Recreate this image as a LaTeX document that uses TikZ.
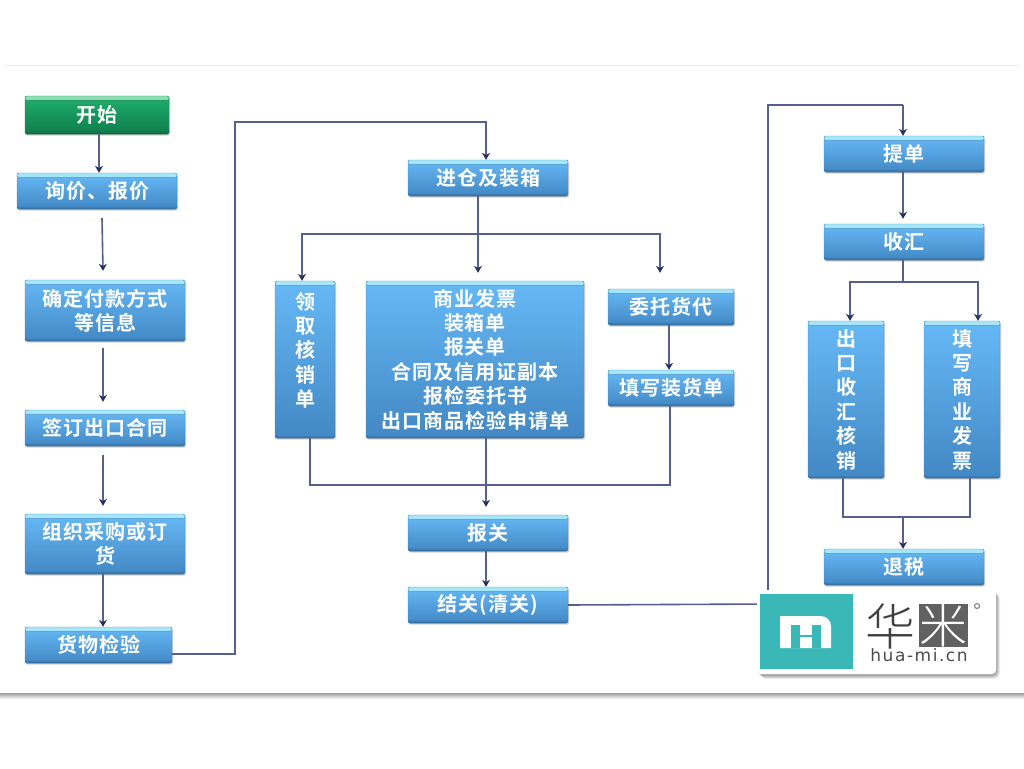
\documentclass[tikz,border=0pt]{standalone}
\usepackage{fontspec}
\setmainfont{Noto Sans CJK SC}[BoldFont={Noto Sans CJK SC Bold}]
\newfontfamily\latinlogo{DejaVu Sans}[LetterSpace=9]
\newfontfamily\thincjk{Noto Sans CJK SC Light}
\usetikzlibrary{arrows.meta,shadows,calc}
\definecolor{linec}{HTML}{565F8E}
\definecolor{tipc}{HTML}{26305F}
\definecolor{bedge}{HTML}{4A8CC2}
\definecolor{btop}{HTML}{66B9F6}
\definecolor{bbot}{HTML}{4288C4}
\definecolor{bstrip}{HTML}{A6E8FA}
\definecolor{bstripb}{HTML}{7CCBF5}
\definecolor{bdark}{HTML}{2F6796}
\definecolor{gedge}{HTML}{1F8A55}
\definecolor{gtop}{HTML}{1FAF6E}
\definecolor{gbot}{HTML}{0F7D4A}
\definecolor{gstrip}{HTML}{8FE0B4}
\definecolor{gstripb}{HTML}{35B97E}
\definecolor{gdark}{HTML}{0B6238}
\definecolor{teal}{HTML}{3AB8B8}
\tikzset{
  stripbase/.style={rectangle,rounded corners=1.5pt,inner sep=0pt,align=center,text=white,
    font=\bfseries\fontsize{20}{24.4}\selectfont\addfontfeatures{LetterSpace=5},
    drop shadow={shadow xshift=1pt,shadow yshift=-1.5pt,opacity=.28,fill=black!60}},
  flowbox/.style={stripbase,draw=bedge,line width=.4pt,top color=btop,bottom color=bbot,
    path picture={
      \fill[top color=bstrip,bottom color=bstripb] (path picture bounding box.north west) rectangle ([yshift=-4pt]path picture bounding box.north east);
      \fill[top color=bbot,bottom color=bdark] ([yshift=3pt]path picture bounding box.south west) rectangle (path picture bounding box.south east);
    }},
  startbox/.style={stripbase,draw=gedge,line width=.4pt,top color=gtop,bottom color=gbot,
    path picture={
      \fill[top color=gstrip,bottom color=gstripb] (path picture bounding box.north west) rectangle ([yshift=-4pt]path picture bounding box.north east);
      \fill[top color=gbot,bottom color=gdark] ([yshift=3pt]path picture bounding box.south west) rectangle (path picture bounding box.south east);
    }},
  link/.style={draw=linec,line width=1.6pt},
  arrowlink/.style={link,-{Stealth[length=7pt,width=8pt,color=tipc]}},
}
\newcommand{\bx}[7][flowbox]{\node[#1,minimum width={(#5-#3)*1pt},minimum height={(#6-#4)*1pt}] (#2) at ({(#3+#5)/2},{(#4+#6)/2}) {#7};}
\begin{document}
\begin{tikzpicture}[x=1pt,y=-1pt]
\useasboundingbox (0,0) rectangle (1024,768);
% page card
\fill[white] (0,0) rectangle (1024,768);
\fill[black!8] (6,65) rectangle (1018,66);
\shade[top color=black!38,bottom color=white] (0,693) rectangle (1024,699);
% boxes
\bx[startbox]{start}{25}{96}{169}{134}{开始}
\bx{inq}{17}{173}{177}{209}{询价、报价}
\bx{pay}{25}{280}{185}{341}{确定付款方式\\等信息}
\bx{sign}{25}{410}{185}{446}{签订出口合同}
\bx{buy}{25}{514}{185}{574}{组织采购或订\\货}
\bx{check}{25}{627}{172}{663}{货物检验}
\bx{pack}{408}{160}{568}{196}{进仓及装箱}
\bx{verif}{275}{281}{335}{438}{领\\取\\核\\销\\单\\[-4pt]\mbox{}}
\bx{docs}{366}{281}{584}{438}{商业发票\\装箱单\\报关单\\合同及信用证副本\\报检委托书\\出口商品检验申请单}
\bx{agent}{608}{289}{734}{325}{委托货代}
\bx{form}{608}{370}{734}{406}{填写装货单}
\bx{decl}{408}{515}{568}{551}{报关}
\bx{clear}{408}{587}{568}{623}{结关(清关)}
\bx{bill}{824}{136}{984}{172}{提单}
\bx{coll}{824}{224}{984}{260}{收汇}
\bx{fx}{808}{321}{884}{478}{出\\口\\收\\汇\\核\\销}
\bx{inv}{924}{321}{1000}{478}{填\\写\\商\\业\\发\\票}
\bx{tax}{824}{549}{984}{585}{退税}
% routing points
\coordinate (up1) at (235,654);
\coordinate (up2) at (235,122);
\coordinate (up3) at (486,122);
\coordinate (sp1) at (478,234);
\coordinate (sp2) at (302,234);
\coordinate (sp3) at (660,234);
\coordinate (mid) at (669,350);
\coordinate (mg1) at (310,485);
\coordinate (mg2) at (670,485);
\coordinate (mg3) at (486,485);
\coordinate (r1) at (768,604);
\coordinate (r2) at (768,105);
\coordinate (r3) at (903,105);
\coordinate (c1) at (903,282);
\coordinate (c2) at (850,282);
\coordinate (c3) at (978,282);
\coordinate (t1) at (843,517);
\coordinate (t2) at (970,517);
\coordinate (t3) at (903,517);
% connectors
\draw[arrowlink] ([xshift=2pt]start.south) -- ([xshift=2pt]inq.north);
\draw[arrowlink] ([xshift=5pt,yshift=-9pt]inq.south) -- ([xshift=-2pt,yshift=9pt]pay.north);
\draw[arrowlink] ([xshift=-2pt,yshift=-7pt]pay.south) -- ([xshift=-2pt,yshift=8pt]sign.north);
\draw[arrowlink] ([xshift=-2pt,yshift=-9pt]sign.south) -- ([xshift=-2pt,yshift=8pt]buy.north);
\draw[arrowlink] ([xshift=-2pt]buy.south) -- ([xshift=-2pt]buy.south |- check.north);
\draw[arrowlink] (check.east |- up1) -- (up1) -- (up2) -- (up3) -- (up3 |- pack.north);
\draw[arrowlink] (sp1 |- pack.south) -- ([yshift=8pt]sp1 |- docs.north);
\draw[arrowlink] (sp1) -- (sp2) -- (sp2 |- verif.north);
\draw[arrowlink] (sp1) -- (sp3) -- ([yshift=16pt]sp3 |- agent.north);
\draw[arrowlink] (mid |- agent.south) -- (mid |- form.north);
\draw[link] (mg1 |- verif.south) -- (mg1) -- (mg2) -- (mg2 |- form.south);
\draw[arrowlink] (mg3 |- docs.south) -- ([yshift=8pt]mg3 |- decl.north);
\draw[arrowlink] (mg3 |- decl.south) -- (mg3 |- clear.north);
\draw[link] (clear.east) -- (r1) -- (r2) -- (r3);
\draw[arrowlink] (r3) -- (r3 |- bill.north);
\draw[arrowlink] (r3 |- bill.south) -- ([yshift=5pt]r3 |- coll.north);
\draw[link] (r3 |- coll.south) -- (c1);
\draw[arrowlink] (c1) -- (c2) -- (c2 |- fx.north);
\draw[arrowlink] (c1) -- (c3) -- (c3 |- inv.north);
\draw[link] (t1 |- fx.south) -- (t1) -- (t2) -- (t2 |- inv.south);
\draw[arrowlink] (t3) -- (t3 |- tax.north);
% logo
\foreach \o/\a in {4/.07,3/.09,2/.11,1/.13}{
  \fill[black,opacity=\a,rounded corners=5pt] (757+\o,590+\o) rectangle (996+\o,675+\o);
}
\fill[white,rounded corners=4pt] (757,590) rectangle (996,674);
\fill[teal] (760,594) rectangle (853,669);
\fill[white] (780,648) -- (780,616) -- (820,616) .. controls (826,616) and (831,620) .. (831,626) -- (831,648) -- cycle;
\fill[teal] (791,625) rectangle (821,648);
\fill[white] (800,625) rectangle (812,635);
\fill[white] (800,637) rectangle (812,648);
\fill[black!62] (919,604) rectangle (968,647);
\node[inner sep=0pt,text=white,font=\thincjk\fontsize{48}{48}\selectfont] (mi) at (943.5,625) {米};
\node[inner sep=0pt,text=black!75,font=\thincjk\fontsize{50}{50}\selectfont] (hua) at (890,626) {华};
\node[inner sep=0pt,text=black!70,font=\latinlogo\fontsize{17}{17}\selectfont] (url) at (919,655) {hua-mi.cn};
\draw[black!45,line width=1.2pt] (977,606) circle (2.5pt);
\end{tikzpicture}
\end{document}
